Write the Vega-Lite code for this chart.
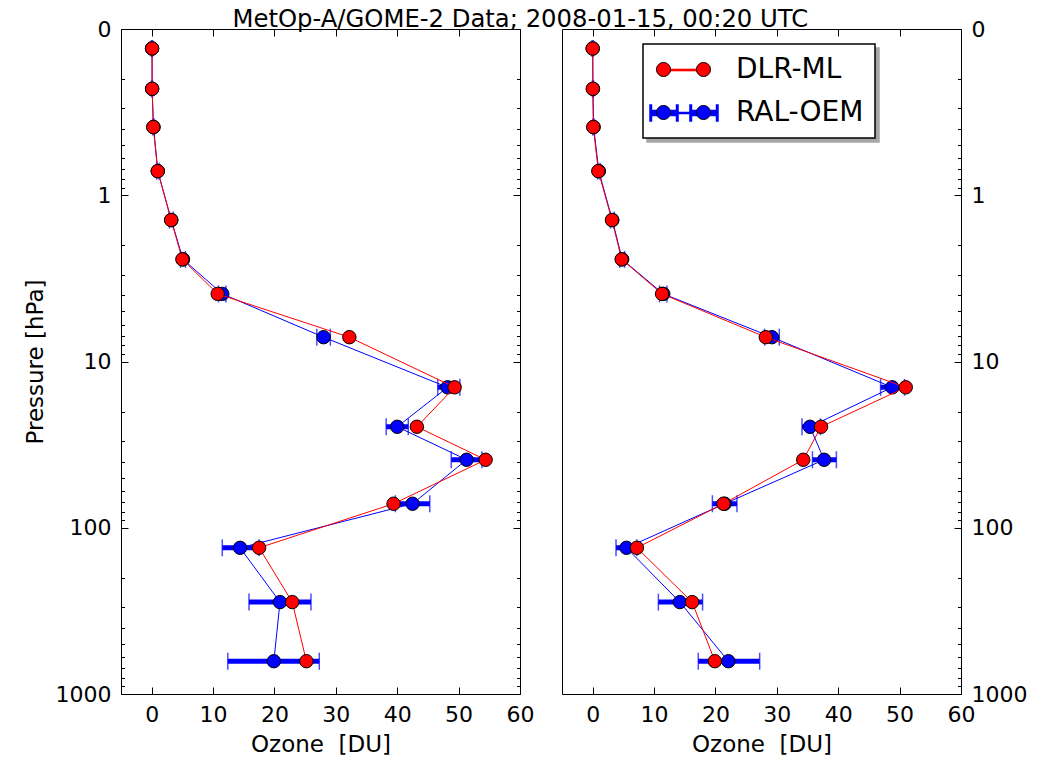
{
  "$schema": "https://vega.github.io/schema/vega-lite/v6.json",
  "autosize": "none",
  "padding": {"left": 121, "top": 29, "right": 930, "bottom": 735},
  "config": {
    "font": "DejaVu Sans",
    "view": {"stroke": "black", "strokeWidth": 1},
    "legend": {"strokeWidth": 1.5},
    "axis": {
      "domain": false,
      "grid": false,
      "tickColor": "black",
      "tickWidth": 1,
      "labelColor": "black",
      "labelFont": "DejaVu Sans",
      "labelFontSize": 22,
      "titleFont": "DejaVu Sans",
      "titleFontSize": 23,
      "titleFontWeight": "normal",
      "titleColor": "black",
      "labelBound": false,
      "labelFlush": false,
      "labelOverlap": false
    }
  },
  "datasets": {
    "leftDLR": [
      {"series": "DLR-ML", "p": 0.131, "ozone": 0.08},
      {"series": "DLR-ML", "p": 0.229, "ozone": 0.08},
      {"series": "DLR-ML", "p": 0.389, "ozone": 0.26},
      {"series": "DLR-ML", "p": 0.716, "ozone": 0.98},
      {"series": "DLR-ML", "p": 1.41, "ozone": 3.17},
      {"series": "DLR-ML", "p": 2.43, "ozone": 5.0},
      {"series": "DLR-ML", "p": 3.92, "ozone": 10.75},
      {"series": "DLR-ML", "p": 7.14, "ozone": 32.2},
      {"series": "DLR-ML", "p": 14.3, "ozone": 49.35},
      {"series": "DLR-ML", "p": 24.7, "ozone": 43.2},
      {"series": "DLR-ML", "p": 39.0, "ozone": 54.4},
      {"series": "DLR-ML", "p": 71.7, "ozone": 39.4},
      {"series": "DLR-ML", "p": 132, "ozone": 17.5},
      {"series": "DLR-ML", "p": 280, "ozone": 22.9},
      {"series": "DLR-ML", "p": 635, "ozone": 25.2}
    ],
    "leftRAL": [
      {"series": "RAL-OEM", "p": 0.131, "ozone": 0.05, "lo": -0.05, "hi": 0.15},
      {"series": "RAL-OEM", "p": 0.229, "ozone": 0.06, "lo": -0.04, "hi": 0.16},
      {"series": "RAL-OEM", "p": 0.389, "ozone": 0.3, "lo": 0.15, "hi": 0.45},
      {"series": "RAL-OEM", "p": 0.716, "ozone": 1.0, "lo": 0.8, "hi": 1.2},
      {"series": "RAL-OEM", "p": 1.41, "ozone": 3.2, "lo": 2.9, "hi": 3.5},
      {"series": "RAL-OEM", "p": 2.43, "ozone": 5.1, "lo": 4.7, "hi": 5.5},
      {"series": "RAL-OEM", "p": 3.92, "ozone": 11.5, "lo": 10.9, "hi": 12.1},
      {"series": "RAL-OEM", "p": 7.14, "ozone": 28.0, "lo": 26.9, "hi": 29.1},
      {"series": "RAL-OEM", "p": 14.3, "ozone": 48.2, "lo": 46.6, "hi": 50.2},
      {"series": "RAL-OEM", "p": 24.7, "ozone": 40.0, "lo": 38.2, "hi": 41.8},
      {"series": "RAL-OEM", "p": 39.0, "ozone": 51.3, "lo": 48.8, "hi": 53.8},
      {"series": "RAL-OEM", "p": 71.7, "ozone": 42.5, "lo": 39.7, "hi": 45.3},
      {"series": "RAL-OEM", "p": 132, "ozone": 14.4, "lo": 11.5, "hi": 17.5},
      {"series": "RAL-OEM", "p": 280, "ozone": 20.9, "lo": 15.85, "hi": 25.95},
      {"series": "RAL-OEM", "p": 635, "ozone": 19.9, "lo": 12.4, "hi": 27.3}
    ],
    "rightDLR": [
      {"series": "DLR-ML", "p": 0.131, "ozone": 0.0},
      {"series": "DLR-ML", "p": 0.229, "ozone": 0.02},
      {"series": "DLR-ML", "p": 0.389, "ozone": 0.1},
      {"series": "DLR-ML", "p": 0.716, "ozone": 0.92},
      {"series": "DLR-ML", "p": 1.41, "ozone": 3.14},
      {"series": "DLR-ML", "p": 2.43, "ozone": 4.72},
      {"series": "DLR-ML", "p": 3.92, "ozone": 11.3},
      {"series": "DLR-ML", "p": 7.14, "ozone": 28.2},
      {"series": "DLR-ML", "p": 14.3, "ozone": 51.0},
      {"series": "DLR-ML", "p": 24.7, "ozone": 37.2},
      {"series": "DLR-ML", "p": 39.0, "ozone": 34.3},
      {"series": "DLR-ML", "p": 71.7, "ozone": 21.3},
      {"series": "DLR-ML", "p": 132, "ozone": 7.2},
      {"series": "DLR-ML", "p": 280, "ozone": 16.2},
      {"series": "DLR-ML", "p": 635, "ozone": 19.9}
    ],
    "rightRAL": [
      {"series": "RAL-OEM", "p": 0.131, "ozone": 0.0, "lo": -0.1, "hi": 0.1},
      {"series": "RAL-OEM", "p": 0.229, "ozone": 0.05, "lo": -0.05, "hi": 0.15},
      {"series": "RAL-OEM", "p": 0.389, "ozone": 0.15, "lo": 0.0, "hi": 0.3},
      {"series": "RAL-OEM", "p": 0.716, "ozone": 1.0, "lo": 0.8, "hi": 1.2},
      {"series": "RAL-OEM", "p": 1.41, "ozone": 3.2, "lo": 2.9, "hi": 3.5},
      {"series": "RAL-OEM", "p": 2.43, "ozone": 4.8, "lo": 4.4, "hi": 5.2},
      {"series": "RAL-OEM", "p": 3.92, "ozone": 11.5, "lo": 10.9, "hi": 12.1},
      {"series": "RAL-OEM", "p": 7.14, "ozone": 29.2, "lo": 28.0, "hi": 30.4},
      {"series": "RAL-OEM", "p": 14.3, "ozone": 48.8, "lo": 46.9, "hi": 50.8},
      {"series": "RAL-OEM", "p": 24.7, "ozone": 35.4, "lo": 34.1, "hi": 37.1},
      {"series": "RAL-OEM", "p": 39.0, "ozone": 37.7, "lo": 35.8, "hi": 39.7},
      {"series": "RAL-OEM", "p": 71.7, "ozone": 21.5, "lo": 19.5, "hi": 23.5},
      {"series": "RAL-OEM", "p": 132, "ozone": 5.5, "lo": 3.8, "hi": 7.2},
      {"series": "RAL-OEM", "p": 280, "ozone": 14.2, "lo": 10.7, "hi": 17.9},
      {"series": "RAL-OEM", "p": 635, "ozone": 22.1, "lo": 17.2, "hi": 27.2}
    ]
  },
  "bounds": "flush",
  "spacing": 42,
  "hconcat": [
    {
      "width": 399,
      "height": 665,
      "resolve": {"axis": {"x": "independent", "y": "independent"}},
      "layer": [
        {
          "data": {"name": "leftRAL"},
          "mark": {"type": "rule", "color": "#0000ff", "strokeWidth": 5},
          "encoding": {
            "x": {"field": "lo", "type": "quantitative",
                  "scale": {"domain": [-5, 60], "nice": false, "zero": false},
                  "axis": {"orient": "bottom", "values": [0, 10, 20, 30, 40, 50, 60], "tickSize": -7, "labelPadding": 17, "title": "Ozone \u00a0[DU]", "titlePadding": 8}},
            "x2": {"field": "hi"},
            "y": {"field": "p", "type": "quantitative",
                  "scale": {"type": "log", "domain": [0.1, 1000], "reverse": true, "nice": false},
                  "axis": {"orient": "left", "values": [0.1, 1, 10, 100, 1000], "format": "d", "tickSize": -7, "labelPadding": 17, "title": "Pressure [hPa]", "titlePadding": 8}},
            "strokeDash": {"field": "series", "type": "nominal", "scale": {"range": [[1, 0]]}}
          }
        },
        {
          "data": {"name": "leftRAL"},
          "mark": {"type": "tick", "orient": "vertical", "color": "#0000ff", "size": 17, "thickness": 1.5},
          "encoding": {
            "x": {"field": "lo", "type": "quantitative",
                  "axis": {"orient": "top", "values": [0, 10, 20, 30, 40, 50, 60], "tickSize": -7, "labels": false,
                           "title": "MetOp-A/GOME-2 Data; 2008-01-15, 00:20 UTC",
                           "titleX": 111, "titleY": -3, "titleAlign": "left", "titleAnchor": "start", "titleBaseline": "alphabetic", "titleFontSize": 24.3}},
            "y": {"field": "p", "type": "quantitative",
                  "axis": {"orient": "left", "values": [0.2, 0.3, 0.4, 0.5, 0.6, 0.7, 0.8, 0.9, 2, 3, 4, 5, 6, 7, 8, 9, 20, 30, 40, 50, 60, 70, 80, 90, 200, 300, 400, 500, 600, 700, 800, 900], "tickSize": -3.5, "labels": false, "title": null}}
          }
        },
        {
          "data": {"name": "leftRAL"},
          "mark": {"type": "tick", "orient": "vertical", "color": "#0000ff", "size": 17, "thickness": 1.5},
          "encoding": {
            "x": {"field": "hi", "type": "quantitative", "axis": null},
            "y": {"field": "p", "type": "quantitative",
                  "axis": {"orient": "right", "values": [0.1, 1, 10, 100, 1000], "tickSize": -7, "labels": false, "title": null}}
          }
        },
        {
          "data": {"name": "leftRAL"},
          "mark": {"type": "line", "strokeWidth": 1},
          "encoding": {
            "x": {"field": "ozone", "type": "quantitative", "axis": null},
            "y": {"field": "p", "type": "quantitative",
                  "axis": {"orient": "right", "values": [0.2, 0.3, 0.4, 0.5, 0.6, 0.7, 0.8, 0.9, 2, 3, 4, 5, 6, 7, 8, 9, 20, 30, 40, 50, 60, 70, 80, 90, 200, 300, 400, 500, 600, 700, 800, 900], "tickSize": -3.5, "labels": false, "title": null}},
            "order": {"field": "p", "type": "quantitative"},
            "stroke": {"field": "series", "type": "nominal"}
          }
        },
        {
          "data": {"name": "leftRAL"},
          "mark": {"type": "circle", "size": 180, "stroke": "black", "strokeWidth": 1, "opacity": 1},
          "encoding": {
            "x": {"field": "ozone", "type": "quantitative", "axis": null},
            "y": {"field": "p", "type": "quantitative", "axis": null},
            "fill": {"field": "series", "type": "nominal"}
          }
        },
        {
          "data": {"name": "leftDLR"},
          "mark": {"type": "line", "strokeWidth": 1},
          "encoding": {
            "x": {"field": "ozone", "type": "quantitative", "axis": null},
            "y": {"field": "p", "type": "quantitative", "axis": null},
            "order": {"field": "p", "type": "quantitative"},
            "stroke": {"field": "series", "type": "nominal"}
          }
        },
        {
          "data": {"name": "leftDLR"},
          "mark": {"type": "circle", "size": 180, "stroke": "black", "strokeWidth": 1, "opacity": 1},
          "encoding": {
            "x": {"field": "ozone", "type": "quantitative", "axis": null},
            "y": {"field": "p", "type": "quantitative", "axis": null},
            "fill": {"field": "series", "type": "nominal"}
          }
        }
      ]
    },
    {
      "width": 399,
      "height": 665,
      "resolve": {"axis": {"x": "independent", "y": "independent"}},
      "layer": [
        {
          "data": {"name": "rightRAL"},
          "mark": {"type": "rule", "color": "#0000ff", "strokeWidth": 5},
          "encoding": {
            "x": {"field": "lo", "type": "quantitative",
                  "scale": {"domain": [-5, 60], "nice": false, "zero": false},
                  "axis": {"orient": "bottom", "values": [0, 10, 20, 30, 40, 50, 60], "tickSize": -7, "labelPadding": 17, "title": "Ozone \u00a0[DU]", "titlePadding": 8}},
            "x2": {"field": "hi"},
            "y": {"field": "p", "type": "quantitative",
                  "scale": {"type": "log", "domain": [0.1, 1000], "reverse": true, "nice": false},
                  "axis": {"orient": "right", "values": [0.1, 1, 10, 100, 1000], "format": "d", "tickSize": -7, "labelPadding": 17, "title": null}},
            "strokeDash": {
              "field": "series", "type": "nominal",
              "legend": {
                "orient": "none", "legendX": 526, "legendY": 19, "title": null,
                "values": ["DLR-ML", "RAL-OEM"],
                "padding": 11, "symbolSize": 784, "symbolOffset": 15,
                "labelOffset": 37, "rowPadding": 14,
                "labelFont": "DejaVu Sans", "labelFontSize": 28, "labelOpacity": 0,
                "symbolOpacity": 0,
                "strokeColor": "#a6a6a6", "fillColor": "#a6a6a6", "zindex": 1
              }
            }
          }
        },
        {
          "data": {"name": "rightRAL"},
          "mark": {"type": "tick", "orient": "vertical", "color": "#0000ff", "size": 17, "thickness": 1.5},
          "encoding": {
            "x": {"field": "lo", "type": "quantitative",
                  "axis": {"orient": "top", "values": [0, 10, 20, 30, 40, 50, 60], "tickSize": -7, "labels": false, "title": null}},
            "y": {"field": "p", "type": "quantitative",
                  "axis": {"orient": "right", "values": [0.2, 0.3, 0.4, 0.5, 0.6, 0.7, 0.8, 0.9, 2, 3, 4, 5, 6, 7, 8, 9, 20, 30, 40, 50, 60, 70, 80, 90, 200, 300, 400, 500, 600, 700, 800, 900], "tickSize": -3.5, "labels": false, "title": null}}
          }
        },
        {
          "data": {"name": "rightRAL"},
          "mark": {"type": "tick", "orient": "vertical", "color": "#0000ff", "size": 17, "thickness": 1.5},
          "encoding": {
            "x": {"field": "hi", "type": "quantitative", "axis": null},
            "y": {"field": "p", "type": "quantitative", "axis": null}
          }
        },
        {
          "data": {"name": "rightRAL"},
          "mark": {"type": "line", "strokeWidth": 1},
          "encoding": {
            "x": {"field": "ozone", "type": "quantitative", "axis": null},
            "y": {"field": "p", "type": "quantitative", "axis": null},
            "order": {"field": "p", "type": "quantitative"},
            "stroke": {"field": "series", "type": "nominal"}
          }
        },
        {
          "data": {"name": "rightRAL"},
          "mark": {"type": "circle", "size": 180, "stroke": "black", "strokeWidth": 1, "opacity": 1},
          "encoding": {
            "x": {"field": "ozone", "type": "quantitative", "axis": null},
            "y": {"field": "p", "type": "quantitative", "axis": null},
            "fill": {"field": "series", "type": "nominal"}
          }
        },
        {
          "data": {"name": "rightDLR"},
          "mark": {"type": "line", "strokeWidth": 1},
          "encoding": {
            "x": {"field": "ozone", "type": "quantitative", "axis": null},
            "y": {"field": "p", "type": "quantitative", "axis": null},
            "order": {"field": "p", "type": "quantitative"},
            "stroke": {
              "field": "series", "type": "nominal",
              "scale": {"domain": ["DLR-ML", "RAL-OEM"], "range": ["#ff0000", "#0000ff"]},
              "legend": {
                "orient": "none", "legendX": 522, "legendY": 15, "title": null,
                "padding": 11, "symbolSize": 784, "symbolOffset": 15,
                "labelOffset": 37, "rowPadding": 14,
                "labelFont": "DejaVu Sans", "labelFontSize": 28, "labelColor": "black",
                "strokeColor": "black", "fillColor": "white", "zindex": 2,
                "encode": {
                  "symbols": {
                    "update": {
                      "shape": {"signal": "datum.value === 'DLR-ML' ? 'M-0.928,-0.039L0.928,-0.039L0.928,0.039L-0.928,0.039Z' : 'M-2.429,-0.18L-1.928,-0.18L-1.928,0.18L-2.429,0.18Z M-0.928,-0.18L-0.461,-0.18L-0.461,0.18L-0.928,0.18Z M0.461,-0.18L0.928,-0.18L0.928,0.18L0.461,0.18Z M1.928,-0.18L2.429,-0.18L2.429,0.18L1.928,0.18Z M-0.461,-0.039L0.461,-0.039L0.461,0.039L-0.461,0.039Z M-2.429,-0.571L-2.322,-0.571L-2.322,0.571L-2.429,0.571Z M-0.534,-0.571L-0.427,-0.571L-0.427,0.571L-0.534,0.571Z M0.427,-0.571L0.534,-0.571L0.534,0.571L0.427,0.571Z M2.322,-0.571L2.429,-0.571L2.429,0.571L2.322,0.571Z'"},
                      "fill": {"signal": "datum.value === 'DLR-ML' ? '#ff0000' : '#0000ff'"},
                      "stroke": {"value": "transparent"},
                      "opacity": {"value": 1}
                    }
                  }
                }
              }
            }
          }
        },
        {
          "data": {"name": "rightDLR"},
          "mark": {"type": "circle", "size": 180, "stroke": "black", "strokeWidth": 1, "opacity": 1},
          "encoding": {
            "x": {"field": "ozone", "type": "quantitative", "axis": null},
            "y": {"field": "p", "type": "quantitative", "axis": null},
            "fill": {
              "field": "series", "type": "nominal",
              "scale": {"range": ["#ff0000", "#0000ff"]},
              "legend": {
                "orient": "none", "legendX": 522, "legendY": 15, "title": null,
                "padding": 11, "symbolSize": 784, "symbolOffset": 15,
                "labelOffset": 37, "rowPadding": 14,
                "labelFont": "DejaVu Sans", "labelFontSize": 28, "labelOpacity": 0,
                "symbolType": "M-1.928,0 C-1.928,-0.276 -1.704,-0.5 -1.428,-0.5 C-1.152,-0.5 -0.928,-0.276 -0.928,0 C-0.928,0.276 -1.152,0.5 -1.428,0.5 C-1.704,0.5 -1.928,0.276 -1.928,0 Z M0.928,0 C0.928,-0.276 1.152,-0.5 1.428,-0.5 C1.704,-0.5 1.928,-0.276 1.928,0 C1.928,0.276 1.704,0.5 1.428,0.5 C1.152,0.5 0.928,0.276 0.928,0 Z",
                "symbolStrokeColor": "black", "symbolStrokeWidth": 1, "symbolOpacity": 1,
                "strokeColor": "transparent", "zindex": 3
              }
            }
          }
        }
      ]
    }
  ]
}
